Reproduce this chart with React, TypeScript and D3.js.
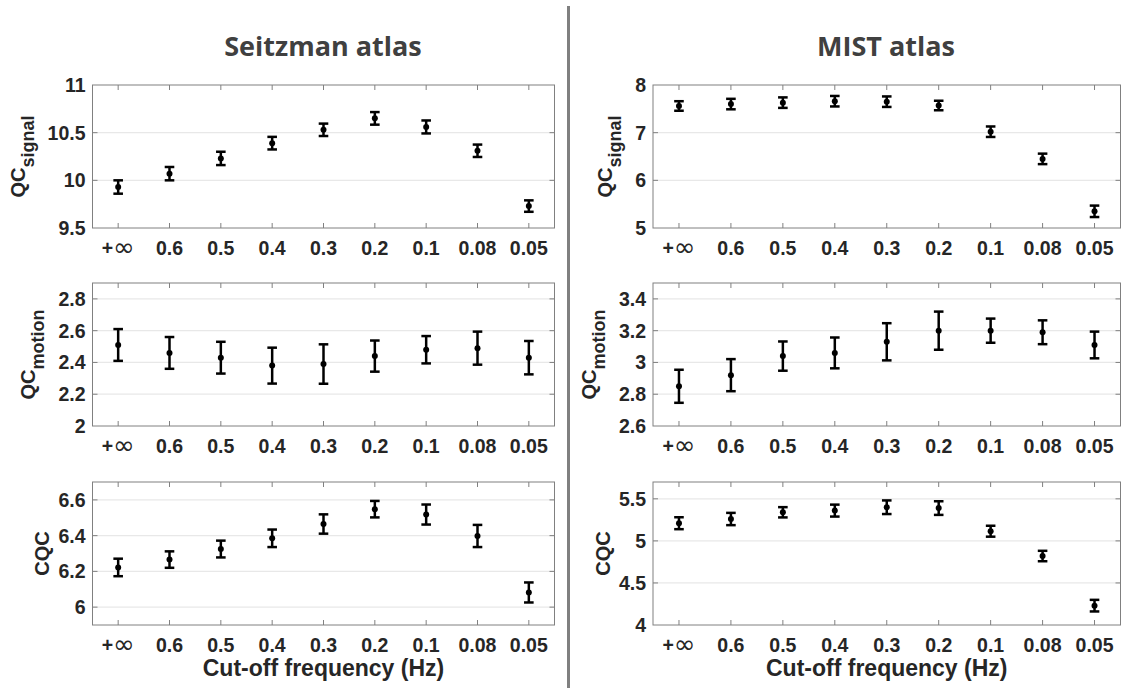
import React from "react";
import * as d3 from "d3";

// Cut-off frequencies shown on every x axis
const cutoffLabels = ["+∞", "0.6", "0.5", "0.4", "0.3", "0.2", "0.1", "0.08", "0.05"];

// Seitzman atlas
const seitzmanSignalMean = [9.93, 10.07, 10.23, 10.39, 10.53, 10.65, 10.56, 10.31, 9.73];
const seitzmanSignalErr = [0.07, 0.07, 0.07, 0.066, 0.065, 0.066, 0.068, 0.065, 0.06];
const seitzmanMotionMean = [2.51, 2.46, 2.43, 2.38, 2.39, 2.44, 2.48, 2.49, 2.43];
const seitzmanMotionErr = [0.1, 0.1, 0.1, 0.113, 0.124, 0.098, 0.086, 0.104, 0.105];
const seitzmanCqcMean = [6.222, 6.266, 6.325, 6.385, 6.465, 6.548, 6.518, 6.398, 6.082];
const seitzmanCqcErr = [0.049, 0.046, 0.047, 0.049, 0.054, 0.046, 0.056, 0.062, 0.056];

// MIST atlas
const mistSignalMean = [7.56, 7.6, 7.63, 7.66, 7.65, 7.57, 7.02, 6.45, 5.35];
const mistSignalErr = [0.1, 0.11, 0.11, 0.11, 0.11, 0.1, 0.11, 0.11, 0.12];
const mistMotionMean = [2.85, 2.92, 3.04, 3.06, 3.13, 3.2, 3.2, 3.19, 3.11];
const mistMotionErr = [0.104, 0.101, 0.092, 0.097, 0.117, 0.12, 0.076, 0.075, 0.084];
const mistCqcMean = [5.21, 5.26, 5.34, 5.36, 5.4, 5.39, 5.115, 4.82, 4.23];
const mistCqcErr = [0.071, 0.073, 0.061, 0.071, 0.081, 0.081, 0.065, 0.062, 0.069];

// y axis limits and tick values
const seitzmanSignalDomain = [9.5, 11];
const seitzmanSignalTicks = [9.5, 10, 10.5, 11];
const seitzmanMotionDomain = [2, 2.9];
const seitzmanMotionTicks = [2, 2.2, 2.4, 2.6, 2.8];
const seitzmanCqcDomain = [5.9, 6.7];
const seitzmanCqcTicks = [6, 6.2, 6.4, 6.6];
const mistSignalDomain = [5, 8];
const mistSignalTicks = [5, 6, 7, 8];
const mistMotionDomain = [2.6, 3.5];
const mistMotionTicks = [2.6, 2.8, 3, 3.2, 3.4];
const mistCqcDomain = [4, 5.7];
const mistCqcTicks = [4, 4.5, 5, 5.5];

const atlasTitles = ["Seitzman atlas", "MIST atlas"];
const xTitle = "Cut-off frequency (Hz)";

const W = 1123;
const H = 688;
const FONT = "'Liberation Sans', Arial, Helvetica, sans-serif";
const TICK_FS = 19.5;
const TEXT = "#262626";

const columns = [
  { x0: 92.5, x1: 554.5, titleX: 323 },
  { x0: 653, x1: 1120.5, titleX: 886 },
];
const rows = [
  { y0: 85, y1: 228 },
  { y0: 283, y1: 426 },
  { y0: 482, y1: 625 },
];

const fmt = (v: number) => String(+v.toFixed(2));
const textWidth = (s: string, fs: number) =>
  s.split("").reduce((w, c) => w + (c === "." ? 0.278 : 0.556), 0) * fs;

type PanelProps = {
  x0: number;
  x1: number;
  y0: number;
  y1: number;
  domain: number[];
  ticks: number[];
  mean: number[];
  err: number[];
  main: string;
  sub?: string;
  showTitle: boolean;
};

function Panel({ x0, x1, y0, y1, domain, ticks, mean, err, main, sub, showTitle }: PanelProps) {
  const x = d3.scalePoint<string>().domain(cutoffLabels).range([x0, x1]).padding(0.5);
  const y = d3.scaleLinear().domain(domain).range([y1, y0]);
  const tickLen = 5;
  const capHalf = 4.8;
  const maxTickW = d3.max(ticks, (t) => textWidth(fmt(t), TICK_FS)) ?? 0;
  const labelRight = x0 - 7 - maxTickW - 8;
  const labelBase = sub ? labelRight - 15 : labelRight - 1;
  const cy = (y0 + y1) / 2;
  const inner = ticks.filter((t) => t > domain[0] && t < domain[1]);

  return (
    <g>
      {/* horizontal grid */}
      {inner.map((t) => (
        <line key={"g" + t} x1={x0} x2={x1} y1={y(t)} y2={y(t)} stroke="#e8e8e8" strokeWidth={1.3} />
      ))}
      {/* axes box */}
      <rect x={x0} y={y0} width={x1 - x0} height={y1 - y0} fill="none" stroke="#808080" strokeWidth={1} />
      {/* x ticks top and bottom */}
      {cutoffLabels.map((c) => (
        <g key={"xt" + c} stroke="#808080" strokeWidth={1}>
          <line x1={x(c)} x2={x(c)} y1={y1} y2={y1 - tickLen} />
          <line x1={x(c)} x2={x(c)} y1={y0} y2={y0 + tickLen} />
        </g>
      ))}
      {/* y ticks left and right */}
      {inner.map((t) => (
        <g key={"yt" + t} stroke="#808080" strokeWidth={1}>
          <line x1={x0} x2={x0 + tickLen} y1={y(t)} y2={y(t)} />
          <line x1={x1} x2={x1 - tickLen} y1={y(t)} y2={y(t)} />
        </g>
      ))}
      {/* y tick labels */}
      {ticks.map((t) => (
        <text
          key={"yl" + t}
          x={x0 - 7}
          y={y(t)}
          dy="0.36em"
          textAnchor="end"
          fontSize={TICK_FS}
          fontWeight="bold"
          fill={TEXT}
        >
          {fmt(t)}
        </text>
      ))}
      {/* x tick labels */}
      {cutoffLabels.map((c) =>
        c === "+∞" ? (
          <text key={"xl" + c} x={x(c)} y={y1 + 20} dy="0.36em" textAnchor="middle" fontSize={TICK_FS} fontWeight="bold" fill={TEXT}>
            +<tspan fontWeight="normal" fontSize={26} fontFamily="'DejaVu Sans', sans-serif" dy="1">∞</tspan>
          </text>
        ) : (
          <text key={"xl" + c} x={x(c)} y={y1 + 20} dy="0.36em" textAnchor="middle" fontSize={TICK_FS} fontWeight="bold" fill={TEXT}>
            {c}
          </text>
        )
      )}
      {/* error bars */}
      {cutoffLabels.map((c, i) => {
        const px = x(c) as number;
        const top = y(mean[i] + err[i]);
        const bot = y(mean[i] - err[i]);
        return (
          <g key={"e" + c} stroke="#000" strokeWidth={2.5}>
            <line x1={px} x2={px} y1={top} y2={bot} />
            <line x1={px - capHalf} x2={px + capHalf} y1={top} y2={top} />
            <line x1={px - capHalf} x2={px + capHalf} y1={bot} y2={bot} />
            <circle cx={px} cy={y(mean[i])} r={3} fill="#000" stroke="none" />
          </g>
        );
      })}
      {/* y axis label */}
      <text
        transform={`translate(${labelBase},${cy}) rotate(-90)`}
        textAnchor="middle"
        fontSize={20}
        fontWeight="bold"
        fill={TEXT}
      >
        {main}
        {sub ? (
          <tspan fontSize={18} dy="9">
            {sub}
          </tspan>
        ) : null}
      </text>
      {showTitle ? (
        <text x={(x0 + x1) / 2} y={y1 + 43} dy="0.36em" textAnchor="middle" fontSize={23} fontWeight="bold" fill={TEXT}>
          {xTitle}
        </text>
      ) : null}
    </g>
  );
}

export default function App() {
  const panels = [
    [
      { domain: seitzmanSignalDomain, ticks: seitzmanSignalTicks, mean: seitzmanSignalMean, err: seitzmanSignalErr, main: "QC", sub: "signal" },
      { domain: seitzmanMotionDomain, ticks: seitzmanMotionTicks, mean: seitzmanMotionMean, err: seitzmanMotionErr, main: "QC", sub: "motion" },
      { domain: seitzmanCqcDomain, ticks: seitzmanCqcTicks, mean: seitzmanCqcMean, err: seitzmanCqcErr, main: "CQC" },
    ],
    [
      { domain: mistSignalDomain, ticks: mistSignalTicks, mean: mistSignalMean, err: mistSignalErr, main: "QC", sub: "signal" },
      { domain: mistMotionDomain, ticks: mistMotionTicks, mean: mistMotionMean, err: mistMotionErr, main: "QC", sub: "motion" },
      { domain: mistCqcDomain, ticks: mistCqcTicks, mean: mistCqcMean, err: mistCqcErr, main: "CQC" },
    ],
  ];

  return (
    <svg
      width={W}
      height={H}
      viewBox={`0 0 ${W} ${H}`}
      style={{ position: "absolute", left: 0, top: 0, background: "#fff" }}
      fontFamily={FONT}
    >
      <rect width={W} height={H} fill="#fff" />
      {/* column divider */}
      <line x1={568.5} x2={568.5} y1={6} y2={H} stroke="#808080" strokeWidth={3} />
      {columns.map((col, ci) => (
        <g key={"c" + ci}>
          <text
            x={col.titleX}
            y={56}
            textAnchor="middle"
            fontFamily="'Open Sans', sans-serif"
            fontSize={27}
            fontWeight="bold"
            fill="#404040"
          >
            {atlasTitles[ci]}
          </text>
          {rows.map((r, ri) => {
            const p = panels[ci][ri];
            return (
              <Panel
                key={"p" + ci + ri}
                x0={col.x0}
                x1={col.x1}
                y0={r.y0}
                y1={r.y1}
                domain={p.domain}
                ticks={p.ticks}
                mean={p.mean}
                err={p.err}
                main={p.main}
                sub={p.sub}
                showTitle={ri === rows.length - 1}
              />
            );
          })}
        </g>
      ))}
    </svg>
  );
}
